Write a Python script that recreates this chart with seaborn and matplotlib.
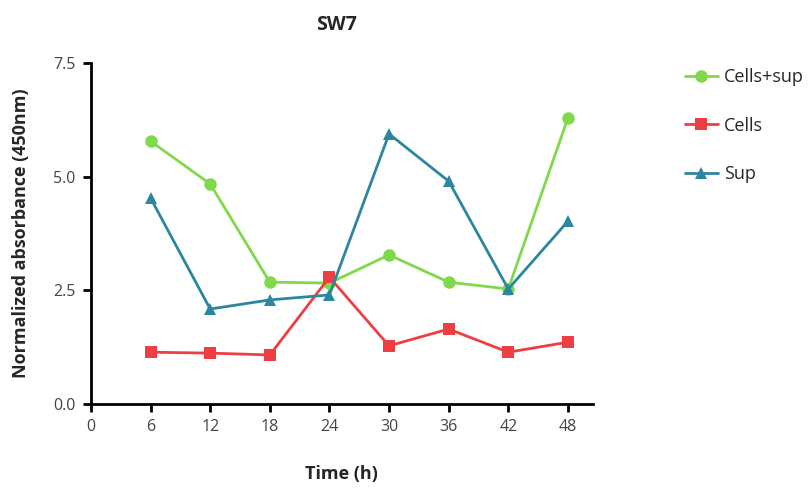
import matplotlib
matplotlib.use("Agg")
import matplotlib.pyplot as plt
import seaborn as sns
import pandas as pd

hours = [6, 12, 18, 24, 30, 36, 42, 48]
cells_sup = [5.78, 4.84, 2.68, 2.66, 3.28, 2.68, 2.53, 6.29]
cells = [1.14, 1.12, 1.08, 2.79, 1.28, 1.65, 1.14, 1.36]
sup = [4.53, 2.09, 2.29, 2.40, 5.94, 4.90, 2.53, 4.02]
series_names = ["Cells+sup", "Cells", "Sup"]
x_ticks = [0, 6, 12, 18, 24, 30, 36, 42, 48]
y_ticks = [0.0, 2.5, 5.0, 7.5]

sns.set_theme(style="ticks")
plt.rcParams["font.family"] = ["Open Sans", "DejaVu Sans"]

df = pd.DataFrame({
    "Time": hours * 3,
    "Absorbance": cells_sup + cells + sup,
    "Group": [series_names[0]] * len(hours) + [series_names[1]] * len(hours) + [series_names[2]] * len(hours),
})

palette = {"Cells+sup": "#7fd94a", "Cells": "#ef3e42", "Sup": "#2b86a0"}
markers = {"Cells+sup": "o", "Cells": "s", "Sup": "^"}

fig = plt.figure(figsize=(8.12, 4.88), dpi=100)
ax = fig.add_axes([0.112, 0.172, 0.618, 0.699])

sns.lineplot(data=df, x="Time", y="Absorbance", hue="Group", style="Group",
             palette=palette, markers=markers, dashes=False, markersize=9,
             linewidth=2, markeredgewidth=0, ax=ax, legend=True)

ax.set_xlim(0, 50.5)
ax.set_ylim(0, 7.5)
ax.set_xticks(x_ticks)
ax.set_yticks(y_ticks)
ax.set_yticklabels([f"{v:.1f}" for v in y_ticks])
sns.despine(ax=ax)
for s in ("left", "bottom"):
    ax.spines[s].set_linewidth(2)
    ax.spines[s].set_color("black")
ax.tick_params(axis="both", length=6, width=2, color="black", labelsize=11.5,
               labelcolor="#444444", direction="out", pad=5)

ax.set_xlabel("Time (h)", fontsize=13, fontweight="bold", labelpad=21)
ax.set_ylabel("Normalized absorbance (450nm)", fontsize=13, fontweight="bold", labelpad=17)
ax.set_title("SW7", fontsize=14, fontweight="bold", pad=24, x=0.49)

handles, labels = ax.get_legend_handles_labels()
ax.legend_.remove()
fig.legend(handles, labels, loc="upper left", bbox_to_anchor=(0.843, 0.86),
           frameon=False, fontsize=13, labelspacing=1.68, handlelength=1.85,
           handletextpad=0.35, borderpad=0, borderaxespad=0, markerscale=1.0)

fig.savefig("out.png", dpi=100)
